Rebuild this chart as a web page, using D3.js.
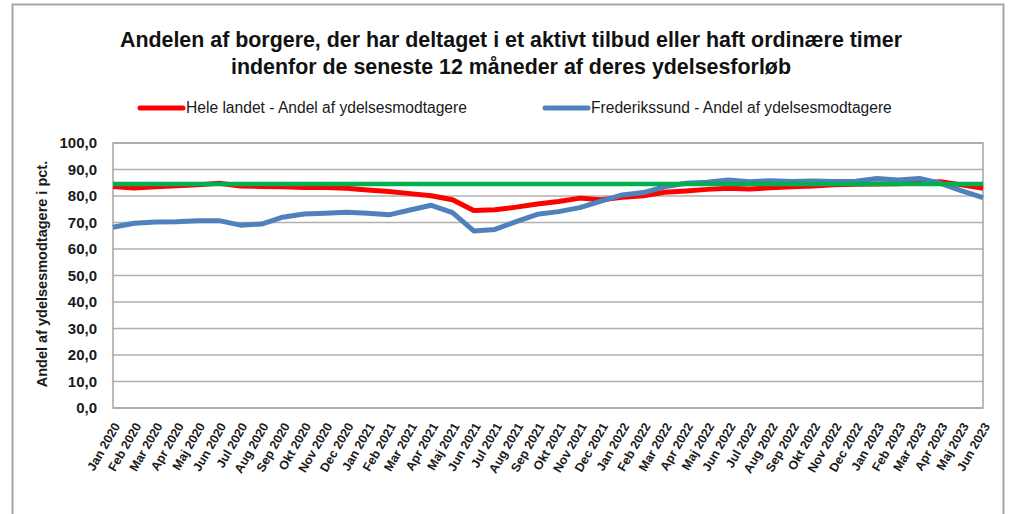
<!DOCTYPE html>
<html>
<head>
<meta charset="utf-8">
<script src="https://cdn.jsdelivr.net/npm/d3@7"></script>
<style>
  body { margin: 0; background: #fff; }
  svg { display: block; font-family: "Liberation Sans", Arial, sans-serif; }
</style>
</head>
<body>
<svg id="chart" width="1011" height="514"></svg>
<script>
// months on the x axis
const maaneder = [
  'Jan 2020','Feb 2020','Mar 2020','Apr 2020','Maj 2020','Jun 2020','Jul 2020','Aug 2020','Sep 2020','Okt 2020','Nov 2020','Dec 2020',
  'Jan 2021','Feb 2021','Mar 2021','Apr 2021','Maj 2021','Jun 2021','Jul 2021','Aug 2021','Sep 2021','Okt 2021','Nov 2021','Dec 2021',
  'Jan 2022','Feb 2022','Mar 2022','Apr 2022','Maj 2022','Jun 2022','Jul 2022','Aug 2022','Sep 2022','Okt 2022','Nov 2022','Dec 2022',
  'Jan 2023','Feb 2023','Mar 2023','Apr 2023','Maj 2023','Jun 2023'
];

// Hele landet - Andel af ydelsesmodtagere
const heleLandet = [
  83.6, 83.0, 83.5, 83.9, 84.2, 84.8, 83.8, 83.6, 83.5, 83.2, 83.2, 82.9,
  82.3, 81.7, 80.9, 80.1, 78.6, 74.5, 74.8, 75.8, 77.0, 77.9, 79.2, 78.6,
  79.5, 80.1, 81.4, 81.9, 82.5, 82.9, 82.6, 83.1, 83.5, 83.8, 84.2, 84.4,
  84.5, 84.6, 84.9, 85.4, 84.2, 82.9
];

// Frederikssund - Andel af ydelsesmodtagere
const frederikssund = [
  68.2, 69.7, 70.2, 70.3, 70.7, 70.7, 69.0, 69.4, 72.0, 73.2, 73.5, 73.9,
  73.5, 72.9, 74.7, 76.5, 73.7, 66.8, 67.4, 70.3, 73.1, 74.1, 75.6, 78.1,
  80.4, 81.3, 83.5, 84.8, 85.2, 86.0, 85.4, 85.8, 85.5, 85.7, 85.5, 85.6,
  86.6, 86.0, 86.6, 84.8, 81.9, 79.4
];

// green reference line
const maal = 84.5;

const yTicks = [0, 10, 20, 30, 40, 50, 60, 70, 80, 90, 100];

const svg = d3.select('#chart');

// outer chart frame
svg.append('rect')
  .attr('x', 12.5).attr('y', 4.5)
  .attr('width', 991).attr('height', 520)
  .attr('fill', '#fff')
  .attr('stroke', '#a6a6a6')
  .attr('stroke-width', 2);

const x = d3.scalePoint().domain(maaneder).range([113, 983]);
const y = d3.scaleLinear().domain([0, 100]).range([408, 143]);

// gridlines
svg.append('g')
  .selectAll('line')
  .data(yTicks)
  .join('line')
  .attr('x1', 113).attr('x2', 983)
  .attr('y1', d => y(d)).attr('y2', d => y(d))
  .attr('stroke', '#b0b0b0')
  .attr('stroke-width', 1.5);

// plot area border
svg.append('rect')
  .attr('x', 113).attr('y', y(100))
  .attr('width', 870).attr('height', y(0) - y(100))
  .attr('fill', 'none')
  .attr('stroke', '#a6a6a6')
  .attr('stroke-width', 1.5);

// y axis
const fmt = d => d3.format('.1f')(d).replace('.', ',');
const yAxis = svg.append('g')
  .attr('transform', 'translate(113,0)')
  .call(d3.axisLeft(y).tickValues(yTicks).tickFormat(fmt).tickSize(0).tickPadding(16));
yAxis.select('.domain').remove();
yAxis.selectAll('text')
  .attr('font-size', 15)
  .attr('font-weight', 'bold')
  .attr('fill', '#1a1a1a')
  .attr('font-family', '"Liberation Sans", Arial, sans-serif');

// x axis
const xAxis = svg.append('g')
  .attr('transform', 'translate(0,408)')
  .call(d3.axisBottom(x).tickSize(0).tickPadding(0));
xAxis.select('.domain').remove();
xAxis.selectAll('text')
  .attr('font-size', 12.5)
  .attr('font-weight', 'bold')
  .attr('fill', '#1a1a1a')
  .attr('font-family', '"Liberation Sans", Arial, sans-serif')
  .attr('text-anchor', 'end')
  .attr('dy', 0)
  .attr('transform', 'translate(7,18) rotate(-60)');

// y axis title
svg.append('text')
  .attr('transform', 'translate(47,274) rotate(-90)')
  .attr('text-anchor', 'middle')
  .attr('font-size', 14.5)
  .attr('font-weight', 'bold')
  .attr('fill', '#1a1a1a')
  .text('Andel af ydelsesmodtagere i pct.');

// lines
const line = d3.line()
  .x((d, i) => x(maaneder[i]))
  .y(d => y(d));

svg.append('path')
  .datum(heleLandet)
  .attr('d', line)
  .attr('fill', 'none')
  .attr('stroke', '#ff0000')
  .attr('stroke-width', 5)
  .attr('stroke-linejoin', 'round');

svg.append('path')
  .datum(frederikssund)
  .attr('d', line)
  .attr('fill', 'none')
  .attr('stroke', '#4f81bd')
  .attr('stroke-width', 5)
  .attr('stroke-linejoin', 'round');

svg.append('line')
  .attr('x1', x(maaneder[0])).attr('x2', x(maaneder[maaneder.length - 1]))
  .attr('y1', y(maal)).attr('y2', y(maal))
  .attr('stroke', '#00b050')
  .attr('stroke-width', 4.5);

// title
const title = svg.append('text')
  .attr('text-anchor', 'middle')
  .attr('font-size', 21.4)
  .attr('font-weight', 'bold')
  .attr('fill', '#111');
title.append('tspan').attr('x', 511).attr('y', 47)
  .text('Andelen af borgere, der har deltaget i et aktivt tilbud eller haft ordinære timer');
title.append('tspan').attr('x', 511).attr('y', 74)
  .text('indenfor de seneste 12 måneder af deres ydelsesforløb');

// legend
const legend = [
  {label: 'Hele landet - Andel af ydelsesmodtagere', color: '#ff0000', x: 140},
  {label: 'Frederikssund - Andel af ydelsesmodtagere', color: '#4f81bd', x: 545}
];
const lg = svg.append('g').selectAll('g').data(legend).join('g')
  .attr('transform', d => `translate(${d.x},108)`);
lg.append('line')
  .attr('x1', 0).attr('x2', 43)
  .attr('stroke', d => d.color)
  .attr('stroke-width', 5)
  .attr('stroke-linecap', 'round');
lg.append('text')
  .attr('x', 46).attr('y', 5)
  .attr('font-size', 15.6)
  .attr('fill', '#1a1a1a')
  .attr('font-family', '"Liberation Sans", Arial, sans-serif')
  .text(d => d.label);
</script>
</body>
</html>
